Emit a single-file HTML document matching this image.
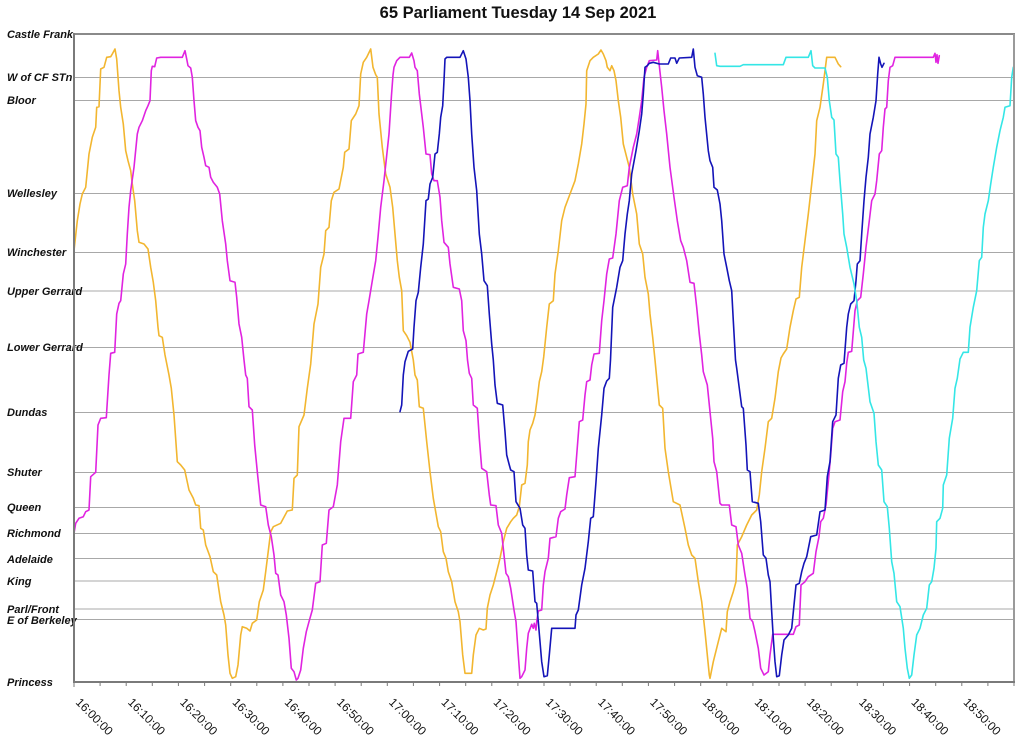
<!DOCTYPE html>
<html><head><meta charset="utf-8"><style>
html,body{margin:0;padding:0;background:#fff;}
svg{display:block;}
.yl{font-family:"Liberation Sans",Arial,sans-serif;font-size:11px;font-weight:bold;font-style:italic;fill:#111;}
.xl{font-family:"Liberation Sans",Arial,sans-serif;font-size:12px;fill:#111;}
.s{fill:none;stroke-width:1.6;stroke-linejoin:round;stroke-linecap:round;}
</style></head><body>
<svg width="1024" height="742" viewBox="0 0 1024 742" xmlns="http://www.w3.org/2000/svg">
<rect x="0" y="0" width="1024" height="742" fill="#fff"/>
<text x="518" y="18" text-anchor="middle" font-family="Liberation Sans, Arial, sans-serif" font-size="16.5" font-weight="bold" fill="#111">65 Parliament Tuesday 14 Sep 2021</text>
<g stroke="#a8a8a8" stroke-width="1">
<line x1="74" y1="77.5" x2="1014" y2="77.5"/>
<line x1="74" y1="100.5" x2="1014" y2="100.5"/>
<line x1="74" y1="193.5" x2="1014" y2="193.5"/>
<line x1="74" y1="252.5" x2="1014" y2="252.5"/>
<line x1="74" y1="291" x2="1014" y2="291"/>
<line x1="74" y1="347.5" x2="1014" y2="347.5"/>
<line x1="74" y1="412.5" x2="1014" y2="412.5"/>
<line x1="74" y1="472.5" x2="1014" y2="472.5"/>
<line x1="74" y1="507.5" x2="1014" y2="507.5"/>
<line x1="74" y1="533.5" x2="1014" y2="533.5"/>
<line x1="74" y1="558.5" x2="1014" y2="558.5"/>
<line x1="74" y1="581" x2="1014" y2="581"/>
<line x1="74" y1="609" x2="1014" y2="609"/>
<line x1="74" y1="619.5" x2="1014" y2="619.5"/>
</g>
<g class="yl">
<text x="7" y="38">Castle Frank</text>
<text x="7" y="81">W of CF STn</text>
<text x="7" y="104">Bloor</text>
<text x="7" y="197">Wellesley</text>
<text x="7" y="256">Winchester</text>
<text x="7" y="295">Upper Gerrard</text>
<text x="7" y="351">Lower Gerrard</text>
<text x="7" y="416">Dundas</text>
<text x="7" y="476">Shuter</text>
<text x="7" y="511">Queen</text>
<text x="7" y="537">Richmond</text>
<text x="7" y="563">Adelaide</text>
<text x="7" y="585">King</text>
<text x="7" y="613">Parl/Front</text>
<text x="7" y="624">E of Berkeley</text>
<text x="7" y="686">Princess</text>
</g>
<polyline class="s" stroke="#f2b630" points="74,250.7 77.3,220.7 80,204 82.3,194 85.7,187.3 89,154 92.3,137.3 95.7,127.3 96.7,107.3 99,106.7 100.7,69 104,67.3 106.7,57.3 110.7,56.7 112.3,54 115,49 116.7,59 119,90.7 120.7,107.3 123.3,124 125.7,150.7 128,160.7 130.7,170.7 132.3,184 134.7,200.7 137.3,230.7 139,242.3 144,244 148,249 150.7,267.3 153.3,282.3 155.7,300.7 158,327.3 159,335.7 162.3,337.3 165,355 169,375 171.3,388.3 174,415 177.3,461.7 180.7,465 184.7,470 189,490 193.3,498.3 195.7,505 199,505.7 200.7,528.3 203.3,530 205.7,545 210,556.7 213.3,571.7 216.7,575 220.7,601.7 224,615 225.7,625 228,655 230,673.3 232.3,678.3 235.7,676.7 238,665 240.7,635 242.3,626.7 246.7,628.3 250,631 252.3,623.3 256.7,620 259.3,601.7 263.3,590 265.7,571.7 270.7,531.7 273.3,526.7 280.7,523.3 287.3,511 292.3,510 294,478.3 297.3,475 299,426.7 304,415 307.3,388.3 310.7,364 314,324 318,304 320.7,267.3 324,254 325.7,230.7 329,227.3 331.3,200.7 334,192.3 339,189 343.3,167.3 344.7,152.3 349,149 351.3,120.7 355.7,114 359,105.7 360.7,74 363.3,62.3 366.7,57.3 370.7,49 373,67.3 375.7,74.7 377.3,77.3 379,114 382.3,147.3 385.7,174 390,187.3 392.7,207.3 395,234 397.3,260.7 399.3,277.3 401.7,290.7 403.3,330.7 406.7,335.7 410,342.3 413.3,360 415,375 417.3,380 419.3,406.7 423.3,408.3 426.7,441.7 430,471.7 433.3,498.3 438.3,526.7 440.7,531.7 443.3,551.7 446,558.3 448.3,571.7 451.7,581.7 455,601.7 458.3,611.7 460,621.7 462.7,655 465,673.3 471.7,673.3 473.3,655 476,635 479.3,628.3 483.3,630 486,629 487.3,608.3 490,595 493.3,585 496.7,571.7 500,558.3 503.3,541.7 506.7,528.3 510.7,521.7 513.3,518.3 516.7,515 519.3,506.7 521.7,485 525,483.3 527.3,465 528.3,441.7 530,430 532.7,423.3 535,415 537.3,398.3 539.3,381.7 541.7,371.7 543.7,357 546.7,327.3 549.3,304 553.3,300.7 555,274 558.3,250.7 561.7,220.7 565,207.3 570,194 575,180.7 578.3,164 581.7,144 584,124 586,104 586.7,70.7 590,60.7 593.3,57.3 598.3,54 601,50 603.3,54 606,60.7 607.3,67.3 610,70.7 611.7,65.7 614,70.7 616,80.7 618.3,100.7 620.7,117.3 623.3,144 626.7,157.3 629.3,167.3 632.7,194 636.7,214 639.3,244 642.7,254 645,277.3 648.3,294 650,314 652.7,337.3 655,360 659.3,405 662.7,408.3 665,448.3 668.3,471.7 673.3,501.7 680,505 685,528.3 688.3,545 691.7,555 695,558.3 698.3,581.7 701.7,601.7 705,631.7 709.3,675 710,678.3 713.3,661.7 718.3,641.7 721.7,628.3 726,631.7 727.3,611.7 730,601.7 733.3,591.7 736,581.7 737.3,545 741.7,536.7 746.7,525 751.7,515 756.7,510 759.3,495 761.7,471.7 765,448.3 768.3,421.7 771.7,418.3 775,398.3 778.3,371.7 781,358 783.3,354 786.7,349 790,327.3 793.3,310.7 796,299 799.3,297.3 801.7,267.3 805,240.7 808.3,214 811.7,184 815,154 816.7,120.7 820,107.3 823.3,84 826.7,57.3 835,57.3 838.3,64 840.7,66.7"/>
<polyline class="s" stroke="#e024e0" points="74,533.3 75.7,523.3 79,518.3 83.3,516.7 85.7,511.7 89,510 90.7,476.7 95.7,472.3 98,425 100.7,418.3 106.3,417.7 109,375 110.7,353.3 114.7,352.3 116.7,314 119,303.3 120.7,300.7 123.3,274 125.7,264 127.3,234 129,207.3 130.7,190.7 134,167.3 137.3,134 139,127.3 142.3,120.7 145.7,110.7 148,105.7 150,100.7 151.3,70.7 152.3,66.3 154.7,66.7 156.7,58 160.7,57.3 182.3,57.3 185,50.7 186.7,59 188,65.7 190.7,68 192.3,77.3 194,100.7 195.7,120.7 198,127.3 200,130.7 201.7,147.3 204,157.3 205.7,165.7 209,167.3 210.7,177.3 213.3,182.3 217.3,187.3 219.7,194 222.3,220.7 225.7,244 227.3,260.7 230,280.7 235,282.3 236.7,297.3 239,324 241.7,337.3 244,360 245.7,375 247.3,378.3 249,406.7 252.3,410 254.7,445 257.3,471.7 260.7,505 265.7,506.7 268.3,525 271.3,536.7 274,555 275.7,573.3 278,575 280.7,595 284,601.7 286.3,615 289,638.3 291.3,668.3 294,671.7 296.3,680 298,678.3 300.7,670 303.3,648.3 306.3,631.7 309,621.7 312.3,610 315.7,583.3 320,581.7 322.3,545 326.3,543.3 329,510 333.3,506.7 337.3,485 340.7,441.7 344,418.3 350.7,418.3 353.3,381.7 356.7,375 358,354 363.3,352.3 366.7,314 369,300.7 372.3,280.7 375.7,260.7 378,237.3 380.7,207.3 384,180.7 389,134 391.5,95 393,75 394,67.3 396.7,60.7 400,57.3 409.3,57.3 411.7,53 414,60.7 415,67.3 417.3,70.7 419.3,94 421.7,114 423.3,127.3 426,154 430,154.7 431.7,174 434,180.7 437.3,180.7 440,197.3 441.7,220.7 444,242.3 448.3,247.3 450,264 453.3,287.3 459.3,289 461.7,300.7 463.3,330.7 466,340.7 467.5,360 469.3,373.3 471.7,378.3 473.3,405 477.3,408.3 479.3,438.3 481.7,468.3 486.7,471.7 489.3,495 490.7,505 496,505.7 498.3,525 501.7,533.3 504,555 506,573.3 508.3,576.7 510.7,588.3 514,610 516,621.7 518.3,655 520,678.3 521.7,676.7 525,670 526.7,648.3 528.3,633.3 531.7,624.3 533.3,628.3 534.3,623.3 536,630 536.7,621.7 538.3,611 541.7,610 543.3,585 545,571.7 548.3,558.3 550,538.3 556,536.7 558.3,518.3 560.7,511.7 565,509 566.7,495 569.3,477.7 575,476.7 576.7,455 579.3,421.7 582.7,420 585,395 586.7,381.7 590,380 591.7,365 594,354 599.3,353.3 601.7,320.7 604,300.7 606.7,274 609.3,259 612.7,258 616,234 619.3,200.7 622.7,187.3 627.3,185.7 629.3,167.3 633.3,147.3 636.7,134 639.3,117.3 641.7,100.7 644,77.3 646.7,67.3 649.3,60.7 656.7,60 657.7,50.7 659.3,65.7 661.7,87.3 664,110.7 666.7,134 670,167.3 674,197.3 677.3,220.7 680.7,240.7 683.3,247.3 686.7,260.7 690,282.3 694,283.3 696.7,307.3 699.3,334 701.7,355 703.3,371.7 707.3,385 710,411.7 712.7,438.3 714,461.7 716.7,471.7 720,503.3 721.7,505 729.3,505 731.7,525 736,526.7 738.3,545 741.7,553.3 745,575 747.3,588.3 750,618.3 752.7,621.7 755,631.7 758.3,648.3 760.7,668.3 764,675 768.3,671.7 770,655 772.7,634.3 793.3,634.3 796,626.7 799.3,625 801,585 805,581.7 808.3,576.7 813.3,573.3 816,551.7 819,536.7 820.7,521.7 823.3,518.3 826,505 828.3,481.7 830.7,455 832.7,428.3 835,421.7 840,420 842.7,391.7 845,381.7 846.7,363.3 848.3,352.3 851.7,351.3 855,310.7 857.3,300.7 860.7,297.3 863.3,274 866,247.3 869.3,220.7 871.7,200.7 875,194 876.7,180.7 879.3,154 881.7,150.7 883.3,127.3 885,109 886.7,107.3 888.3,80.7 890,67.3 892.7,65.7 895,57.3 933.3,57.3 935,53.3 936,62.3 937,54.7 938,63.3 939.3,55.7"/>
<polyline class="s" stroke="#1414b8" points="400,411.7 401.7,405 403.3,375 405,361.7 408.3,351.3 412.7,349 414,327.3 416,300.7 418.3,292.3 420.7,267.3 423.3,244 426,200.7 428.3,199 430,184 432.7,177.3 435,154 437.3,152.3 439.3,134 440.7,117.3 442.7,105.7 444,80.7 445,59 446.7,57.3 460,57.3 463.3,50.7 466,59 468.3,77.3 470,100.7 471.7,134 474,167.3 476.7,190.7 477.3,200.7 479.3,234 481.7,254 484,280.7 487.3,285.7 489.3,314 491.7,344 493.3,360 495,385 497.3,403.3 502.7,405 505,431.7 506.7,455 509.3,465 510.7,470 514,471.7 516,501.7 520,508.3 522.7,525 525,528.3 526.7,555 528.3,570 532.7,571 535,601.7 536.7,603.3 538.3,621.7 540,641.7 541.7,661.7 544,676.7 547.3,675.7 549.3,655 551.7,628.3 575,628.3 576,615 578.3,610 581.7,585 585,568.3 588.3,541.7 590.7,518.3 593.3,516.7 596,481.7 598.3,448.3 601.7,415 604,388.3 606.7,381 609.3,378.3 610.5,360 612.7,307.3 616.7,287.3 620,267.3 622.7,260.7 625,234 627.3,214 629.3,200.7 631.7,174 636,150.7 639.3,130.7 641.7,114 643.3,94 645,67.3 647.3,65.7 649.3,63.3 653.3,62.3 659.3,64 668.3,64 670.7,58 675,58 676.7,63.3 679.3,58 691.7,57.3 693.3,49 695,67.3 697.3,75.7 701.7,77.3 703.3,94 705,117.3 708.3,150.7 710,160.7 712.7,167.3 714,187.3 717.3,190 720,204 721.7,220.7 724,254 726.7,267.3 729.3,280.7 731.7,290.7 733.3,320.7 735.5,360 736.7,368.3 739.3,388.3 741.7,406.7 743.3,408.3 746,445 747.3,470 750,471.7 752.3,501.7 758.3,503.3 760.7,521.7 763.3,555 766,558.3 768.3,575 770,581.7 771.7,611.7 773.3,638.3 775,661.7 776.7,676.7 779.3,675.7 781.7,655 784,640 788.3,635 791.7,628.3 794,605 796,585 799.3,583.3 801.7,571.7 804,563.3 806.7,556.7 810.7,536.7 816.7,535 820,511.7 825,510 827.3,476.7 830,461.7 832.7,421.7 836,415 838.3,378.3 840.7,365 844,363.3 846.7,327.3 848.3,314 850.7,304 854,300.7 856,280.7 857.3,264 860,260.7 861.7,234 864,200.7 866,177.3 868.3,157.3 870,134 873.3,117.3 876,100.7 877.7,74 879,57.3 880.7,64 882,67.3 884,63.3"/>
<polyline class="s" stroke="#34e6e6" points="715,53.3 716.7,65.7 720,66.3 740,66.3 743.3,64.7 783.3,64.7 786,57.3 808.3,57.3 811,50.7 812.7,65.7 815,68 825,68 827.3,77.3 829.3,100.7 831.7,117.3 834,120 836,154 838.3,157.3 840,180.7 842.7,214 844,234 846.7,247.3 850,267.3 854,284 856.7,300.7 859.3,327.3 861.7,337.3 863.7,360 866,368.3 870,401.7 874,413.3 876,441.7 878.3,465 881.7,470 884,501.7 887.3,506.7 889.3,528.3 891.7,561.7 894,573.3 896.7,601.7 900,606.7 903.3,628.3 905,648.3 907.3,668.3 909.3,678.3 911.7,675 914,655 916.7,635 920,628.3 923.3,615 926.7,608.3 929.3,585 931.7,581.7 934,568.3 936,548.3 936.7,521.7 940,518.3 942.7,508.3 943.3,485 946.7,475 949.3,438.3 952.7,418.3 955,388.3 957.3,378.3 960,359 963.3,352.3 968.3,352.3 970,327.3 973.3,307.3 976.7,290.7 979.3,260.7 981.7,257.3 983.3,227.3 985,214 988.3,200.7 990.7,184 993.3,167.3 996.7,147.3 1000,130.7 1003.3,117.3 1005,107.3 1010,105.7 1011.7,77.3 1013.3,67.3"/>
<line x1="74" y1="34" x2="1015" y2="34" stroke="#8a8a8a" stroke-width="2"/>
<line x1="1014" y1="34" x2="1014" y2="682" stroke="#9a9a9a" stroke-width="2"/>
<line x1="74" y1="33" x2="74" y2="683" stroke="#7a7a7a" stroke-width="2"/>
<line x1="73" y1="682" x2="1015" y2="682" stroke="#7a7a7a" stroke-width="2"/>
<g stroke="#7a7a7a" stroke-width="1">
<line x1="74" y1="682" x2="74" y2="687"/><line x1="100.1" y1="682" x2="100.1" y2="686"/><line x1="126.2" y1="682" x2="126.2" y2="686"/><line x1="152.3" y1="682" x2="152.3" y2="686"/><line x1="178.4" y1="682" x2="178.4" y2="686"/><line x1="204.6" y1="682" x2="204.6" y2="686"/><line x1="230.7" y1="682" x2="230.7" y2="686"/><line x1="256.8" y1="682" x2="256.8" y2="686"/><line x1="282.9" y1="682" x2="282.9" y2="686"/><line x1="309" y1="682" x2="309" y2="686"/><line x1="335.1" y1="682" x2="335.1" y2="686"/><line x1="361.2" y1="682" x2="361.2" y2="686"/><line x1="387.3" y1="682" x2="387.3" y2="686"/><line x1="413.4" y1="682" x2="413.4" y2="686"/><line x1="439.6" y1="682" x2="439.6" y2="686"/><line x1="465.7" y1="682" x2="465.7" y2="686"/><line x1="491.8" y1="682" x2="491.8" y2="686"/><line x1="517.9" y1="682" x2="517.9" y2="686"/><line x1="544" y1="682" x2="544" y2="686"/><line x1="570.1" y1="682" x2="570.1" y2="686"/><line x1="596.2" y1="682" x2="596.2" y2="686"/><line x1="622.3" y1="682" x2="622.3" y2="686"/><line x1="648.4" y1="682" x2="648.4" y2="686"/><line x1="674.6" y1="682" x2="674.6" y2="686"/><line x1="700.7" y1="682" x2="700.7" y2="686"/><line x1="726.8" y1="682" x2="726.8" y2="686"/><line x1="752.9" y1="682" x2="752.9" y2="686"/><line x1="779" y1="682" x2="779" y2="686"/><line x1="805.1" y1="682" x2="805.1" y2="686"/><line x1="831.2" y1="682" x2="831.2" y2="686"/><line x1="857.3" y1="682" x2="857.3" y2="686"/><line x1="883.4" y1="682" x2="883.4" y2="686"/><line x1="909.6" y1="682" x2="909.6" y2="686"/><line x1="935.7" y1="682" x2="935.7" y2="686"/><line x1="961.8" y1="682" x2="961.8" y2="686"/><line x1="987.9" y1="682" x2="987.9" y2="686"/><line x1="1014" y1="682" x2="1014" y2="686"/>
</g>
<g class="xl">
<text x="75" y="703" transform="rotate(45 75 703)">16:00:00</text>
<text x="127.2" y="703" transform="rotate(45 127.2 703)">16:10:00</text>
<text x="179.4" y="703" transform="rotate(45 179.4 703)">16:20:00</text>
<text x="231.7" y="703" transform="rotate(45 231.7 703)">16:30:00</text>
<text x="283.9" y="703" transform="rotate(45 283.9 703)">16:40:00</text>
<text x="336.1" y="703" transform="rotate(45 336.1 703)">16:50:00</text>
<text x="388.3" y="703" transform="rotate(45 388.3 703)">17:00:00</text>
<text x="440.6" y="703" transform="rotate(45 440.6 703)">17:10:00</text>
<text x="492.8" y="703" transform="rotate(45 492.8 703)">17:20:00</text>
<text x="545" y="703" transform="rotate(45 545 703)">17:30:00</text>
<text x="597.2" y="703" transform="rotate(45 597.2 703)">17:40:00</text>
<text x="649.4" y="703" transform="rotate(45 649.4 703)">17:50:00</text>
<text x="701.7" y="703" transform="rotate(45 701.7 703)">18:00:00</text>
<text x="753.9" y="703" transform="rotate(45 753.9 703)">18:10:00</text>
<text x="806.1" y="703" transform="rotate(45 806.1 703)">18:20:00</text>
<text x="858.3" y="703" transform="rotate(45 858.3 703)">18:30:00</text>
<text x="910.6" y="703" transform="rotate(45 910.6 703)">18:40:00</text>
<text x="962.8" y="703" transform="rotate(45 962.8 703)">18:50:00</text>
</g>
</svg>
</body></html>
